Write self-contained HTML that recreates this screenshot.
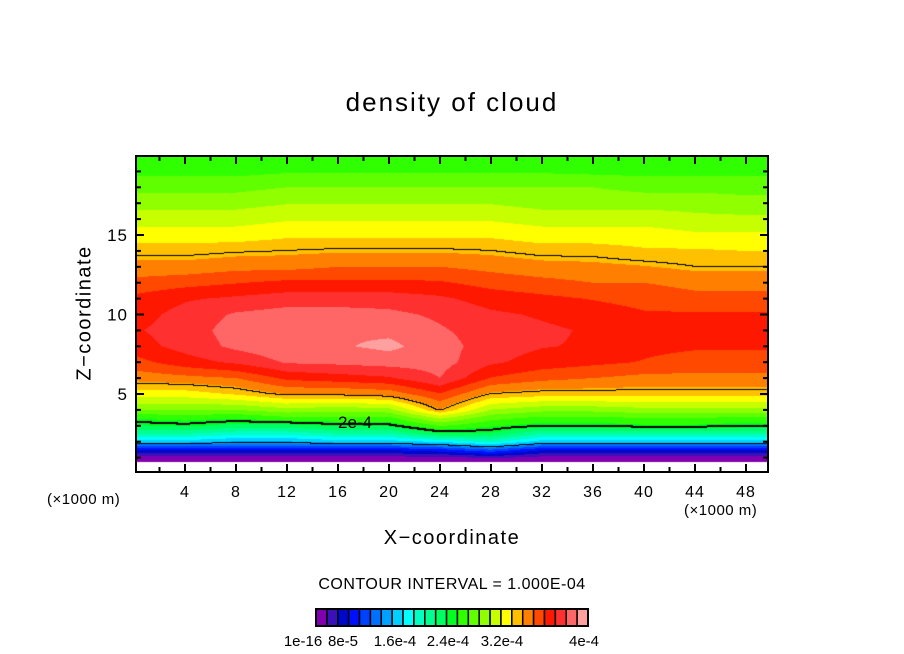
<!DOCTYPE html>
<html><head><meta charset="utf-8">
<style>
html,body{margin:0;padding:0;background:#fff;}
body{width:904px;height:654px;position:relative;overflow:hidden;font-family:"Liberation Sans",sans-serif;color:#000;}
.t{position:absolute;white-space:nowrap;}
</style></head>
<body>
<div class="t" style="left:0;width:904px;text-align:center;top:87px;font-size:26px;letter-spacing:2px;">density of cloud</div>
<div class="t" style="left:85px;top:313px;font-size:20px;letter-spacing:1.5px;transform:translate(-50%,-50%) rotate(-90deg);">Z−coordinate</div>
<div class="t" style="left:0;width:904px;text-align:center;top:527px;font-size:20px;letter-spacing:1.5px;">X−coordinate</div>
<div class="t" style="left:47px;top:491px;font-size:15px;letter-spacing:0.5px;">(×1000 m)</div>
<div class="t" style="left:684px;top:502px;font-size:15px;letter-spacing:0.5px;">(×1000 m)</div>
<div class="t" style="left:0;width:904px;text-align:center;top:576px;font-size:16px;letter-spacing:0.5px;">CONTOUR INTERVAL = 1.000E-04</div>
<canvas id="c" width="904" height="654" style="position:absolute;left:0;top:0;"></canvas>
<svg id="s" width="904" height="654" style="position:absolute;left:0;top:0;"></svg>
<script>
// data values in units of 1e-5
const zRows=[0,0.6,1,1.5,2,2.5,3,3.5,4,5,6,7,8,9,10,11,12,13,14,15,16,17,18,19,20];
const xCols=[0,4,8,12,16,20,24,28,32,36,40,44,48,50];
const col0 =[-1,-0.5,1,5,12,16,19,21,24,28,31,33,34.5,35,34.5,34,32.5,31,29.5,28,26.5,25,23.5,21.9,21];
const col4 =[-1,-0.5,1,5,12,16,19.5,21.5,24,28,31.5,34.5,35.8,36,35.8,35,33,31,29.5,28,26.5,25,23.5,21.9,21];
const col8 =[-1,-0.5,1,5,11,15,18.5,21,24,29,32,35.5,37.2,37.5,37,35.5,33.5,31.5,29.8,28,26.5,25,23.5,21.9,21];
const col12=[-1,-0.5,1,5,11,15,18.5,22,25,30.5,34,37,38,38,37.5,36,34,31.5,30,28.5,27,25.5,24,22.2,21];
const col16=[-1,-0.5,1,5,12,16,19.5,22,24.5,30.5,34.5,37.2,38.2,38.2,37.5,36,34,32,30.2,28.5,27,25.5,24,22.2,21];
const col20=[-1,-0.5,1,5,12,16,19.5,22,25,31,35,37.5,38.8,38,37.2,36,34,32,30.2,28.5,27,25.5,24,22.2,21];
const col24=[-1,-0.5,1,6,13,19,22.5,26,30.3,33.5,36.8,37.5,37.5,37,36.5,35.5,33.8,32,30.2,28.5,27,25.5,24,22.2,21];
const col28=[-1,-1,2,8,15,19,21,23,25.5,30,33.5,35.5,36,36,35.5,34.5,33,31.5,30,28.5,27,25.5,24,22.2,21];
const col32=[-1,-0.5,1,5,12,16,20,22,24.5,29.5,32.5,34.5,35.3,35.5,35,34,32.5,31,29.5,28,26.5,25,24,22.2,21];
const col36=[-1,-0.5,1,5,12,16,20,22,24.5,29.5,32,34,35,35,34.5,33.5,32,30.8,29.5,28,26.5,25,24,22,21];
const col40=[-1,-0.5,1,5,12,16,20.5,22.5,25,29.5,31.5,33.5,34,34,33.8,33,32,30.5,29,28,26.5,25,23.5,21.9,21];
const col44=[-1,-0.5,1,5,12,16,20.5,22.5,25,29.5,31.5,33,33.8,33.8,33.8,32.5,31.5,30,29,27.5,26,25,23.5,21.9,21];
const col48=[-1,-0.5,1,5,12,16,20,22,25,29.5,31.5,33,33.8,34,33.8,32.5,31.5,30,28.8,27.5,26,24.5,23.5,21.9,21];
const col50=[-1,-0.5,1,5,12,16,20,22,25,29.5,31.5,33,33.8,34,33.8,32.5,31.5,30,28.8,27.5,26,24.5,23.5,21.9,21];
const columns=[col0,col4,col8,col12,col16,col20,col24,col28,col32,col36,col40,col44,col48,col50];
const levelStep=1.6;
const contourLevels=[10,20,30];
const xTickLabels=[4,8,12,16,20,24,28,32,36,40,44,48];
const yTickLabels=[5,10,15];
const colors=["#8000b0","#3a10b8","#0008c8","#0010ff","#0040ff","#0070ff","#00a0ff","#00d0ff","#00ffff","#00ffc0","#00ff90","#00ff60","#00ff20","#30ff00","#60ff00","#90ff00","#c8ff00","#ffff00","#ffc000","#ff8000","#ff4800","#ff1800","#ff3030","#ff6666","#ffa0a0"];
const cbLabels=["1e-16","8e-5","1.6e-4","2.4e-4","3.2e-4","4e-4"];
const cbLabelX=[303,343,395,448,502,584];

const PL=136,PR=768,PT=156,PB=472;
const X=v=>134+12.75*v, Xinv=p=>(p-134)/12.75;
const Y=v=>473.5-15.9*v, Yinv=p=>(473.5-p)/15.9;
function bracket(arr,v){let i=0;while(i<arr.length-2&&v>arr[i+1])i++;let t=(v-arr[i])/(arr[i+1]-arr[i]);return [i,Math.max(0,Math.min(1,t))];}
function field(x,z){const [i,tx]=bracket(xCols,x);const [j,tz]=bracket(zRows,z);
 const a=columns[i][j],b=columns[i+1][j],c=columns[i][j+1],d=columns[i+1][j+1];
 return (a*(1-tx)+b*tx)*(1-tz)+(c*(1-tx)+d*tx)*tz;}
function hex(h){return [parseInt(h.substr(1,2),16),parseInt(h.substr(3,2),16),parseInt(h.substr(5,2),16)];}
const rgb=colors.map(hex);
const cv=document.getElementById('c'),ctx=cv.getContext('2d');
const W=PR-PL,H=PB-PT;
const img=ctx.createImageData(W,H);
const vals=new Float32Array(W*H);
for(let py=0;py<H;py++)for(let px=0;px<W;px++)vals[py*W+px]=field(Xinv(PL+px+0.5),Yinv(PT+py+0.5));
for(let k=0;k<W*H;k++){const v=vals[k];let c=[255,255,255];
 if(v>0){c=rgb[Math.min(colors.length-1,Math.floor(v/levelStep))];}
 img.data[k*4]=c[0];img.data[k*4+1]=c[1];img.data[k*4+2]=c[2];img.data[k*4+3]=255;}
function blk(x,y){if(x<0||y<0||x>=W||y>=H)return;const k=(y*W+x)*4;img.data[k]=img.data[k+1]=img.data[k+2]=0;}
contourLevels.forEach(L=>{const thick=(L===20);
 for(let py=0;py<H-1;py++)for(let px=0;px<W-1;px++){const a=vals[py*W+px]>=L,b=vals[py*W+px+1]>=L,c=vals[(py+1)*W+px]>=L;
  if(a!==b||a!==c){blk(px,py);if(thick){blk(px,py+1);blk(px+1,py);}}}});
ctx.putImageData(img,PL,PT);

const NS="http://www.w3.org/2000/svg",svg=document.getElementById('s');
function el(t,a){const e=document.createElementNS(NS,t);for(const k in a)e.setAttribute(k,a[k]);svg.appendChild(e);return e;}
const fr=el('rect',{x:PL,y:PT,width:W,height:H,fill:'none',stroke:'#000','stroke-width':2});


for(let v=2;v<=48;v+=2){const major=v%4===0,len=major?8:5,px=X(v);
 const t1=el('line',{x1:px,x2:px,y1:PB,y2:PB-len,stroke:'#000','stroke-width':2});
 
 
 const t2=el('line',{x1:px,x2:px,y1:PT,y2:PT+len,stroke:'#000','stroke-width':2});
 
 }
xTickLabels.forEach(v=>{const t=el('text',{x:X(v),y:497,'text-anchor':'middle','font-size':16,'letter-spacing':1,'font-family':'Liberation Sans, sans-serif'});t.textContent=v;
 
 });
for(let v=1;v<=19;v++){const major=v%5===0,len=major?8:5,py=Y(v);
 const t1=el('line',{x1:PL,x2:PL+len,y1:py,y2:py,stroke:'#000','stroke-width':2});
 
 
 const t2=el('line',{x1:PR,x2:PR-len,y1:py,y2:py,stroke:'#000','stroke-width':2});
 
 }
yTickLabels.forEach(v=>{const t=el('text',{x:128,y:Y(v)+6,'text-anchor':'end','font-size':17,'letter-spacing':1,'font-family':'Liberation Sans, sans-serif'});t.textContent=v;
 
 });
const cl=el('text',{x:355,y:428,'text-anchor':'middle','font-size':17,'font-family':'Liberation Sans, sans-serif'});cl.textContent='2e-4';


const cbX=316,cbW=272,cbY=609,cbH=17,cw=cbW/colors.length;
colors.forEach((c,i)=>{const r=el('rect',{x:cbX+i*cw,y:cbY,width:cw,height:cbH,fill:c,stroke:'#000','stroke-width':1.5});
 
 });
const cbf=el('rect',{x:cbX,y:cbY,width:cbW,height:cbH,fill:'none',stroke:'#000','stroke-width':2});


cbLabels.forEach((s,i)=>{const t=el('text',{x:cbLabelX[i],y:646,'text-anchor':'middle','font-size':15,'font-family':'Liberation Sans, sans-serif'});t.textContent=s;
 
 });
</script>
</body></html>
